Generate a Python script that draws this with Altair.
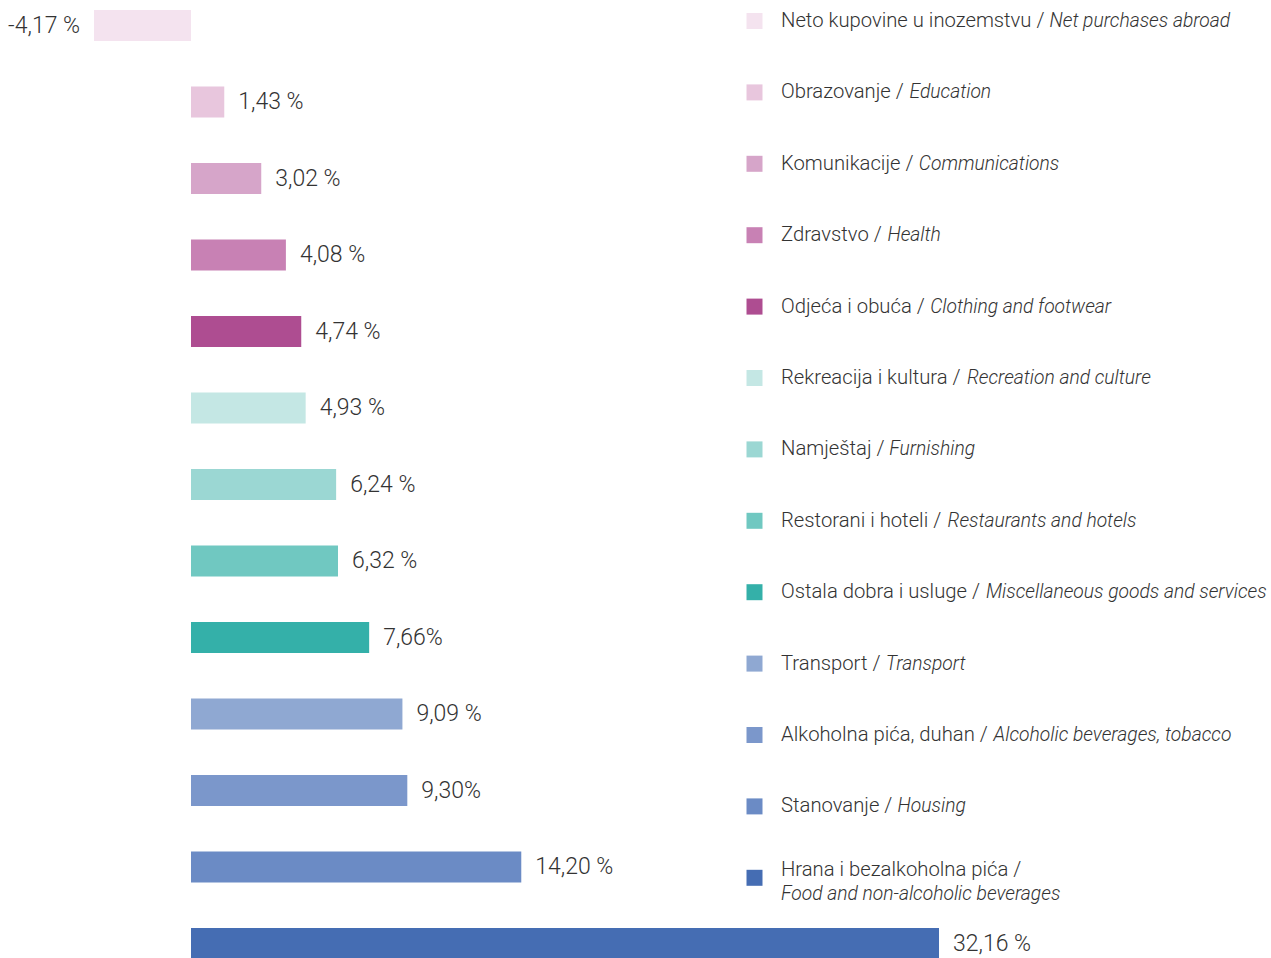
import altair as alt
import pandas as pd

# ---------------- data ----------------
categories_hr = [
    "Neto kupovine u inozemstvu", "Obrazovanje", "Komunikacije", "Zdravstvo",
    "Odjeća i obuća", "Rekreacija i kultura", "Namještaj", "Restorani i hoteli",
    "Ostala dobra i usluge", "Transport", "Alkoholna pića, duhan", "Stanovanje",
    "Hrana i bezalkoholna pića",
]
categories_en = [
    "Net purchases abroad", "Education", "Communications", "Health",
    "Clothing and footwear", "Recreation and culture", "Furnishing",
    "Restaurants and hotels", "Miscellaneous goods and services", "Transport",
    "Alcoholic beverages, tobacco", "Housing", "Food and non-alcoholic beverages",
]
values = [-4.17, 1.43, 3.02, 4.08, 4.74, 4.93, 6.24, 6.32, 7.66, 9.09, 9.30, 14.20, 32.16]
value_labels = ["-4,17 %", "1,43 %", "3,02 %", "4,08 %", "4,74 %", "4,93 %", "6,24 %",
                "6,32 %", "7,66%", "9,09 %", "9,30%", "14,20 %", "32,16 %"]
colors = ["#f4e3ef", "#e8c6dd", "#d6a5c9", "#c881b4", "#ae4d91", "#c4e7e4", "#9bd7d3",
          "#70c8c1", "#34b0a9", "#8fa8d2", "#7b97cb", "#6b8bc5", "#456db3"]

# ---------------- layout ----------------
W, H = 1271, 958
ZERO_PX, PX_PER = 191, 23.259
BAR_TOP, BAR_STEP, BAR_H = 10, 76.5, 31
LEG_TOP, LEG_STEP = 21, 71.4
LEG_SQ_X, LEG_TX, LEG_SQ = 754.5, 781, 16
LEG_MAXW = 500
FS_VAL, FS_REG, FS_IT = 23, 20.25, 19.25
FONT = "Roboto"
TXT = "#333333"

# approximate Roboto advance widths (units per 2048 em)
CW = {" ": 507, "a": 1087, "b": 1120, "c": 1046, "d": 1126, "e": 1058, "f": 694, "g": 1120,
      "h": 1102, "i": 486, "j": 478, "k": 1013, "l": 486, "m": 1753, "n": 1104, "o": 1139,
      "p": 1120, "q": 1126, "r": 677, "s": 1031, "t": 654, "u": 1102, "v": 968, "w": 1502,
      "x": 991, "y": 946, "z": 991, "ć": 1046, "š": 1031, "/": 824, ",": 393, "-": 553,
      "A": 1336, "C": 1305, "E": 1165, "F": 1008, "H": 1427, "K": 1279, "M": 1747,
      "N": 1427, "O": 1383, "R": 1260, "S": 1217, "T": 1222, "Z": 1227}


def text_w(s, fs, k=1.0):
    return sum(CW.get(c, 1100) for c in s) / 2048 * fs * k


K_REG, K_IT = 1.005, 0.99
leg_rows = []
for i, (hr, en, col) in enumerate(zip(categories_hr, categories_en, colors)):
    reg = hr + " / "
    wr = text_w(reg, FS_REG, K_REG)
    total = wr + text_w(en, FS_IT, K_IT)
    wrap = total > LEG_MAXW
    leg_rows.append({
        "li": i, "hr": reg, "en": en, "color": col,
        "sqx": LEG_SQ_X, "tx": LEG_TX,
        "ix": LEG_TX if wrap else LEG_TX + wr,
        "ry": i - (8 / LEG_STEP if wrap else 0),
        "iy": i + (16 / LEG_STEP if wrap else 0),
    })
leg_df = pd.DataFrame(leg_rows)

bars_df = pd.DataFrame({"row": list(range(len(values))), "value": values,
                        "label": value_labels, "color": colors})

# ---------------- scales ----------------
xs = alt.Scale(domain=[-ZERO_PX / PX_PER, (W - ZERO_PX) / PX_PER], nice=False, zero=False,
               padding=0)
yd0 = -(BAR_TOP + BAR_H / 2) / BAR_STEP
ys = alt.Scale(domain=[yd0, yd0 + H / BAR_STEP], nice=False, zero=False, reverse=True,
               padding=0)
lxs = alt.Scale(domain=[0, W], nice=False, zero=False, padding=0)
ld0 = -LEG_TOP / LEG_STEP
lys = alt.Scale(domain=[ld0, ld0 + H / LEG_STEP], nice=False, zero=False, reverse=True,
                padding=0)

base = alt.Chart(bars_df)
bars = base.mark_bar(orient="horizontal", size=BAR_H).encode(
    x=alt.X("value:Q", scale=xs, axis=None),
    x2=alt.datum(0),
    y=alt.Y("row:Q", scale=ys, axis=None),
    color=alt.Color("color:N", scale=None),
)
pos_lab = base.transform_filter("datum.value >= 0").mark_text(
    align="left", baseline="middle", dx=14, font=FONT, fontSize=FS_VAL,
    fontWeight=300, color=TXT
).encode(x=alt.X("value:Q", scale=xs, axis=None),
         y=alt.Y("row:Q", scale=ys, axis=None), text="label:N")
neg_lab = base.transform_filter("datum.value < 0").mark_text(
    align="right", baseline="middle", dx=-14, font=FONT, fontSize=FS_VAL,
    fontWeight=300, color=TXT
).encode(x=alt.X("value:Q", scale=xs, axis=None),
         y=alt.Y("row:Q", scale=ys, axis=None), text="label:N")

lbase = alt.Chart(leg_df)
squares = lbase.mark_square(size=LEG_SQ * LEG_SQ, opacity=1, filled=True).encode(
    x=alt.X("sqx:Q", scale=lxs, axis=None),
    y=alt.Y("li:Q", scale=lys, axis=None),
    color=alt.Color("color:N", scale=None),
)
reg_txt = lbase.mark_text(align="left", baseline="middle", font=FONT, fontSize=FS_REG,
                          fontWeight=300, color=TXT).encode(
    x=alt.X("tx:Q", scale=lxs, axis=None),
    y=alt.Y("ry:Q", scale=lys, axis=None),
    text="hr:N",
)
it_txt = lbase.mark_text(align="left", baseline="middle", font=FONT, fontSize=FS_IT,
                         fontWeight=300, fontStyle="italic", color=TXT).encode(
    x=alt.X("ix:Q", scale=lxs, axis=None),
    y=alt.Y("iy:Q", scale=lys, axis=None),
    text="en:N",
)

bar_layer = alt.layer(bars, pos_lab, neg_lab)
leg_layer = alt.layer(squares, reg_txt, it_txt)

chart = alt.layer(bar_layer, leg_layer).resolve_scale(
    x="independent", y="independent", color="independent"
).properties(
    width=W, height=H, padding=0, autosize=alt.AutoSizeParams(type="none"),
    background="white",
).configure_view(stroke=None)

chart.save("out.html", embed_options={"renderer": "svg", "actions": False})
